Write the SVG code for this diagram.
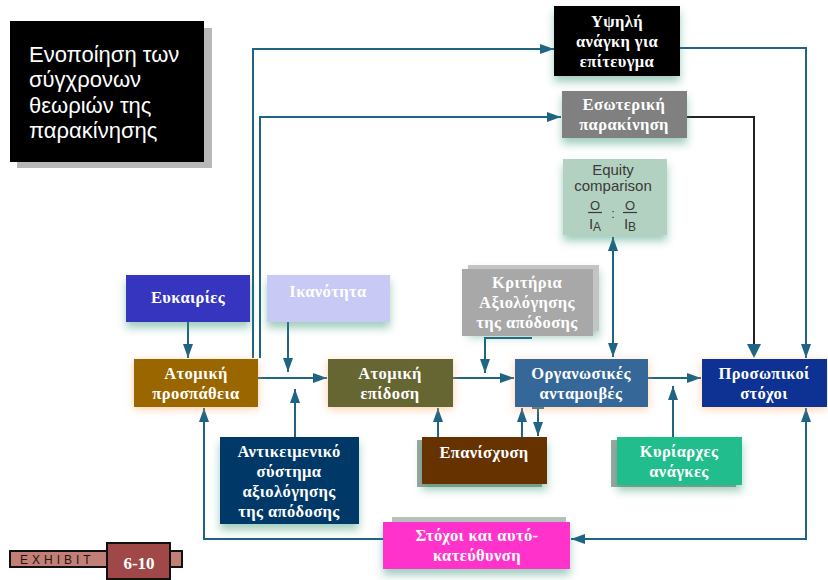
<svg xmlns="http://www.w3.org/2000/svg" width="828" height="580" viewBox="0 0 828 580">
<defs>
<style>
.lbl{font-family:"Liberation Serif","Times New Roman",serif;font-weight:bold;font-size:16.5px;letter-spacing:0.4px;fill:#fff;text-anchor:middle}
.conn{fill:none;stroke:#1f6482;stroke-width:2}
.dark{fill:none;stroke:#222;stroke-width:2}
.eq{font-family:"Liberation Sans",Arial,sans-serif;font-size:15px;fill:#3a3a3a;text-anchor:middle}
.fr{font-family:"Liberation Sans",Arial,sans-serif;font-size:13px;fill:#3a3a3a;text-anchor:middle}
</style>
<marker id="ah" viewBox="0 0 14 10" refX="14" refY="5" markerWidth="14" markerHeight="10" markerUnits="userSpaceOnUse" orient="auto-start-reverse"><path d="M0,0 L14,5 L0,10 Z" fill="#1f6482"/></marker>
<marker id="ahd" viewBox="0 0 14 10" refX="14" refY="5" markerWidth="14" markerHeight="10" markerUnits="userSpaceOnUse" orient="auto"><path d="M0,0 L14,5 L0,10 Z" fill="#1f6482"/></marker>
<filter id="gs" x="-20%" y="-20%" width="140%" height="160%"><feDropShadow dx="0" dy="6" stdDeviation="4" flood-color="#2f8f6f" flood-opacity="0.45"/></filter>
<filter id="og" x="-20%" y="-30%" width="140%" height="160%"><feDropShadow dx="0" dy="2" stdDeviation="4" flood-color="#ffa860" flood-opacity="0.55"/></filter>
</defs>
<rect width="828" height="580" fill="#fff"/>

<g id="title">
<rect x="17" y="28" width="195" height="140" fill="#b8b8b8"/>
<rect x="10" y="21" width="194" height="141" fill="#000"/>
<g font-family="Liberation Sans,Arial,sans-serif" font-size="22" fill="#fff">
<text x="29" y="62">Ενοποίηση των</text>
<text x="29" y="87">σύγχρονων</text>
<text x="29" y="113">θεωριών της</text>
<text x="29" y="138">παρακίνησης</text>
</g>
</g>

<g id="connectors">
<path class="conn" d="M188,322 V358" marker-end="url(#ahd)"/>
<path class="conn" d="M288,322 V372" marker-end="url(#ahd)"/>
<path class="conn" d="M258,378 H327" marker-end="url(#ahd)"/>
<path class="conn" d="M295,437 V389" marker-end="url(#ahd)"/>
<path class="conn" d="M253,358 V49 H554" marker-end="url(#ahd)"/>
<path class="conn" d="M260,358 V117 H561" marker-end="url(#ahd)"/>
<path class="conn" d="M680,48 H806 V358" marker-end="url(#ahd)"/>
<path class="dark" d="M687,117 H754 V346"/>
<path d="M747,344 L754,358 L761,344 Z" fill="#1f6482"/>
<path class="conn" d="M453,378 H514" marker-end="url(#ahd)"/>
<path class="conn" d="M532,338 H485 V373" marker-end="url(#ahd)"/>
<path class="conn" d="M613,237 V357" marker-start="url(#ah)" marker-end="url(#ah)"/>
<path class="conn" d="M648,378 H701" marker-end="url(#ahd)"/>
<path class="conn" d="M673,437 V386" marker-end="url(#ahd)"/>
<path class="conn" d="M438,437 V408" marker-end="url(#ahd)"/>
<path class="conn" d="M522,437 V408" marker-end="url(#ahd)"/>
<path class="conn" d="M538,408 V436" marker-end="url(#ahd)"/>
<path class="conn" d="M532,408 H544"/>
<path class="conn" d="M383,539 H204 V408" marker-end="url(#ahd)"/>
<path class="conn" d="M806,408 V539 H571" marker-start="url(#ah)" marker-end="url(#ah)"/>
</g>

<g id="n-ypsili">
<rect x="554" y="6" width="126" height="70" fill="#000" filter="url(#gs)"/>
<text class="lbl" x="617" y="27">Υψηλή</text>
<text class="lbl" x="617" y="47">ανάγκη για</text>
<text class="lbl" x="617" y="67">επίτευγμα</text>
</g>

<g id="n-esoteriki">
<rect x="562" y="91" width="125" height="47" fill="#808080" filter="url(#gs)"/>
<text class="lbl" x="624" y="110">Εσωτερική</text>
<text class="lbl" x="624" y="130">παρακίνηση</text>
</g>

<g id="n-equity">
<rect x="563" y="159" width="104" height="76" fill="#b3d1c1" filter="url(#gs)"/>
<text class="eq" x="613" y="175">Equity</text>
<text class="eq" x="613" y="191">comparison</text>
<text class="fr" x="595" y="210">O</text>
<line x1="588" y1="212.5" x2="602" y2="212.5" stroke="#3a3a3a" stroke-width="1.2"/>
<text class="eq" x="595" y="229">I<tspan font-size="12" dy="2">A</tspan></text>
<text class="fr" x="613" y="218">:</text>
<text class="fr" x="630" y="210">O</text>
<line x1="623" y1="212.5" x2="637" y2="212.5" stroke="#3a3a3a" stroke-width="1.2"/>
<text class="eq" x="630" y="229">I<tspan font-size="12" dy="2">B</tspan></text>
</g>

<g id="n-eukairies">
<rect x="126" y="275" width="124" height="47" fill="#3636bf" filter="url(#gs)"/>
<text class="lbl" x="188" y="303">Ευκαιρίες</text>
</g>

<g id="n-ikanotita">
<rect x="267" y="275" width="123" height="47" fill="#c9c9f6" filter="url(#gs)"/>
<text class="lbl" x="328" y="297" fill="#f4f4ff">Ικανότητα</text>
</g>

<g id="n-kritiria">
<rect x="468" y="265" width="131" height="66" fill="#c4c4c4" filter="url(#gs)"/>
<rect x="462" y="269" width="131" height="67" fill="#a8a8a8"/>
<text class="lbl" x="527" y="288">Κριτήρια</text>
<text class="lbl" x="527" y="308">Αξιολόγησης</text>
<text class="lbl" x="527" y="328">της απόδοσης</text>
</g>

<g id="n-atomiki-prospatheia">
<rect x="134" y="359" width="124" height="48" fill="#996600" filter="url(#og)"/>
<text class="lbl" x="196" y="379">Ατομική</text>
<text class="lbl" x="196" y="399">προσπάθεια</text>
</g>

<g id="n-atomiki-epidosi">
<rect x="328" y="359" width="125" height="48" fill="#666633" filter="url(#og)"/>
<text class="lbl" x="390" y="379">Ατομική</text>
<text class="lbl" x="390" y="399">επίδοση</text>
</g>

<g id="n-organosikes">
<rect x="515" y="359" width="133" height="48" fill="#356898" filter="url(#og)"/>
<text class="lbl" x="581" y="379">Οργανωσικές</text>
<text class="lbl" x="581" y="399">ανταμοιβές</text>
</g>

<g id="n-prosopikoi">
<rect x="702" y="359" width="125" height="48" fill="#0b3394" filter="url(#og)"/>
<text class="lbl" x="764" y="379">Προσωπικοί</text>
<text class="lbl" x="764" y="399">στόχοι</text>
</g>

<g id="n-antikeimeniko">
<rect x="220" y="437" width="139" height="87" fill="#033768" filter="url(#gs)"/>
<text class="lbl" x="289" y="457">Αντικειμενικό</text>
<text class="lbl" x="289" y="477">σύστημα</text>
<text class="lbl" x="289" y="497">αξιολόγησης</text>
<text class="lbl" x="289" y="517">της απόδοσης</text>
</g>

<g id="n-epanischysi">
<rect x="417" y="440" width="125" height="47" fill="#9aa8a0"/>
<rect x="422" y="437" width="125" height="47" fill="#663300" filter="url(#gs)"/>
<text class="lbl" x="484" y="458">Επανίσχυση</text>
</g>

<g id="n-kyriarxes">
<rect x="611" y="440" width="125" height="47" fill="#9aa8a0"/>
<rect x="617" y="437" width="125" height="48" fill="#20bd8c" filter="url(#gs)"/>
<text class="lbl" x="679" y="457">Κυρίαρχες</text>
<text class="lbl" x="679" y="477">ανάγκες</text>
</g>

<g id="n-stoxoi">
<rect x="392" y="517" width="174" height="10" fill="#b8c0bc"/>
<rect x="383" y="522" width="187" height="47" fill="#ff33cc" filter="url(#gs)"/>
<text class="lbl" x="477" y="541">Στόχοι και αυτό-</text>
<text class="lbl" x="477" y="561">κατεύθυνση</text>
</g>

<g id="exhibit">
<rect x="10" y="551" width="172" height="16" fill="#c08078" stroke="#111" stroke-width="2"/>
<text x="20" y="564" font-family="Liberation Sans,Arial,sans-serif" font-size="12" letter-spacing="4" fill="#2a1010">EXHIBIT</text>
<rect x="107" y="543" width="63" height="36" fill="#a04848" stroke="#111" stroke-width="2"/>
<text x="139" y="569" font-family="Liberation Serif,Times New Roman,serif" font-weight="bold" font-size="17" fill="#fff" text-anchor="middle">6-10</text>
</g>
</svg>
